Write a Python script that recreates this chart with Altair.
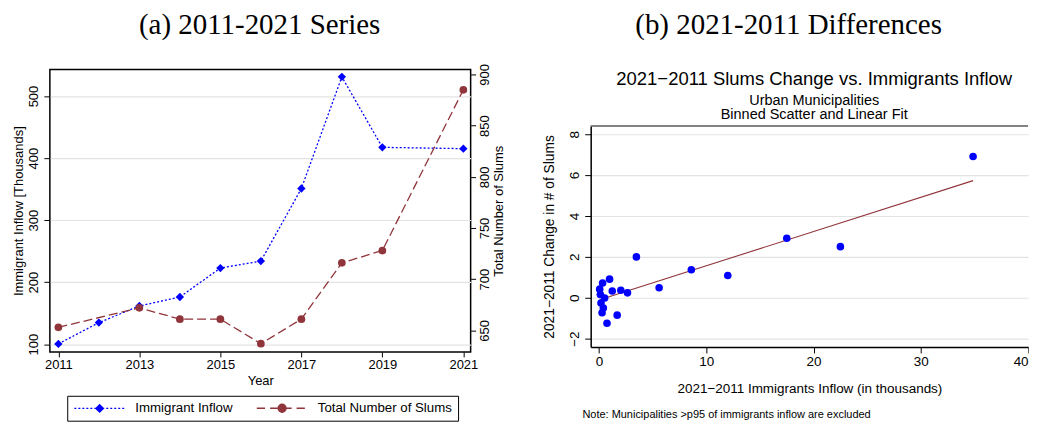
import altair as alt
import pandas as pd

# ---------------- data ----------------
years = [2011, 2012, 2013, 2014, 2015, 2016, 2017, 2018, 2019, 2020, 2021]
immigrant_inflow = [100.5, 134.8, 161.6, 176.1, 222.7, 234.0, 350.9, 531.0, 417.3, None, 415.2]
total_slums = [653, None, 672, 661, 661, 637, 661, 716, 728, None, 885]
series_names = ["Immigrant Inflow", "Total Number of Slums"]
series_colors = ["#0000ff", "#90353b"]

bin_inflow = [34.87, 17.5, 22.5, 3.48, 8.6, 12.0, 5.6, 2.03, 2.65, 1.23,
              0.98, 0.33, 0.06, 0.12, 0.52, 0.18, 0.40, 0.28, 1.69, 0.74]
bin_change = [6.91, 2.91, 2.50, 2.0, 1.37, 1.09, 0.49, 0.37, 0.24, 0.33,
              0.91, 0.72, 0.42, 0.16, -0.01, -0.26, -0.50, -0.73, -0.85, -1.25]
fit_intercept = -0.11
fit_slope = 0.1675

left_x_ticks = [2011, 2013, 2015, 2017, 2019, 2021]
left_y_ticks = [100, 200, 300, 400, 500]
right_y_ticks = [650, 700, 750, 800, 850, 900]
scat_x_ticks = [0, 10, 20, 30, 40]
scat_y_ticks = [-2, 0, 2, 4, 6, 8]

panel_titles = ["(a) 2011-2021 Series", "(b) 2021-2011 Differences"]
scat_title = "2021\u22122011 Slums Change vs. Immigrants Inflow"
scat_subtitles = ["Urban Municipalities", "Binned Scatter and Linear Fit"]
note_text = "Note: Municipalities >p95 of immigrants inflow are excluded"

FONT = "Liberation Sans"
SERIF = "Liberation Serif"


def text_layer(txt, x, y, size, font=FONT, align="center"):
    return alt.Chart(pd.DataFrame({"t": [txt]})).mark_text(
        align=align, baseline="alphabetic", fontSize=size, font=font,
        color="black").encode(x=alt.value(x), y=alt.value(y), text="t:N")


# ---------------- left panel ----------------
imm_df = pd.DataFrame({"year": years, "value": immigrant_inflow}).dropna()
slum_df = pd.DataFrame({"year": years, "value": total_slums}).dropna()
legend_df = pd.DataFrame({"series": series_names})

W1, H1 = 422, 283.3

xs = alt.Scale(domain=[2010.79, 2021.18], nice=False, zero=False)
x_axis = alt.Axis(values=left_x_ticks, format="d", title="Year", grid=False,
                  domain=False, tickSize=5, tickWidth=1, labelFontSize=13,
                  titleFontSize=13, labelPadding=2, titlePadding=2.7)

imm_y = alt.Y("value:Q",
              scale=alt.Scale(domain=[87.6, 542.9], nice=False, zero=False),
              axis=alt.Axis(values=left_y_ticks, title="Immigrant Inflow [Thousands]",
                            grid=True, gridColor="#e3e3e3", gridWidth=1.2,
                            domain=False, tickSize=6, labelAngle=270,
                            labelAlign="center", labelBaseline="bottom",
                            labelFontSize=13, titleFontSize=13, labelPadding=3.6,
                            titlePadding=2))
slum_y = alt.Y("value:Q",
               scale=alt.Scale(domain=[629.0, 904.9], nice=False, zero=False),
               axis=alt.Axis(values=right_y_ticks, title="Total Number of Slums",
                             orient="right", grid=False, domain=False, tickSize=5,
                             labelAngle=270, labelAlign="center", labelBaseline="top",
                             labelFontSize=13, titleFontSize=13, labelPadding=3,
                             titleAngle=270, titleBaseline="top", titlePadding=1))

imm_line = alt.Chart(imm_df).mark_line(color=series_colors[0], strokeDash=[2, 2],
                                       strokeWidth=1.3).encode(
    x=alt.X("year:Q", scale=xs, axis=x_axis), y=imm_y)
imm_pts = alt.Chart(imm_df).mark_point(shape="diamond", filled=True, opacity=1,
                                       color=series_colors[0], size=70).encode(
    x=alt.X("year:Q", scale=xs), y=alt.Y("value:Q"))
slum_line = alt.Chart(slum_df).mark_line(color=series_colors[1], strokeDash=[9, 4],
                                         strokeWidth=1.3).encode(
    x=alt.X("year:Q", scale=xs), y=slum_y)
slum_pts = alt.Chart(slum_df).mark_point(shape="circle", filled=True, opacity=1,
                                         color=series_colors[1], size=60).encode(
    x=alt.X("year:Q", scale=xs), y=alt.Y("value:Q"))


# legend symbols: a line with a marker, in symbol units (1 unit = 5 px)
def dashes(x0, x1, on, off):
    out, x = [], x0
    while x < x1:
        out.append(f"M{x:.2f},0H{min(x + on, x1):.2f}")
        x += on + off
    return "".join(out)


mid = 4.07
imm_sym = dashes(-1, 9.14, 0.4, 0.4) + \
    f"M{mid-0.75:.2f},0L{mid:.2f},-0.75L{mid+0.75:.2f},0L{mid:.2f},0.75Z"
slum_sym = dashes(-1, 9.14, 1.66, 1.0) + \
    f"M{mid-0.8:.2f},0A0.8,0.8,0,1,0,{mid+0.8:.2f},0A0.8,0.8,0,1,0,{mid-0.8:.2f},0Z"

leg = alt.Legend(orient="none", legendX=17.4, legendY=327.3, direction="horizontal",
                 title=None, strokeColor="black", fillColor="white", padding=5.5,
                 symbolSize=100, symbolStrokeWidth=1.3, labelOffset=49.5,
                 columnPadding=21, labelFontSize=13.3, labelFont=FONT,
                 labelColor="black", symbolOpacity=1)
legend_layer = alt.Chart(legend_df).mark_point(opacity=1, size=100, clip=True,
                                               strokeWidth=1.3).encode(
    x=alt.value(-60), y=alt.value(-60),
    fill=alt.Fill("series:N", scale=alt.Scale(domain=series_names, range=series_colors),
                  legend=leg),
    stroke=alt.Stroke("series:N", scale=alt.Scale(domain=series_names, range=series_colors),
                      legend=leg),
    shape=alt.Shape("series:N", scale=alt.Scale(domain=series_names,
                                                range=[imm_sym, slum_sym]),
                    legend=leg),
)

left = alt.layer(
    alt.layer(imm_line, imm_pts),
    alt.layer(slum_line, slum_pts),
    legend_layer,
    text_layer(panel_titles[0], 210.4, -35.7, 29, font=SERIF),
).resolve_scale(y="independent").properties(
    width=W1, height=H1,
    view=alt.ViewBackground(stroke="black", strokeWidth=1.5),
)

# ---------------- right panel ----------------
scat_df = pd.DataFrame({"inflow": bin_inflow, "change": bin_change})
fit_x = [min(bin_inflow), max(bin_inflow)]
fit_df = pd.DataFrame({"inflow": fit_x,
                       "change": [fit_intercept + fit_slope * v for v in fit_x]})

# the reference crops the panel at the 40 tick; the plot ends there
W2, H2 = 438.7, 278.3
TOP2 = 56.7  # plot region starts below the inner titles
sxs = alt.Scale(domain=[-0.781, 40], nice=False, zero=False)
sys_ = alt.Scale(domain=[-2.405, 8.405], range=[H2, TOP2], nice=False, zero=False)

sx_axis = alt.Axis(values=scat_x_ticks, title="2021\u22122011 Immigrants Inflow (in thousands)",
                   grid=False, domainColor="black", domainWidth=1.5, tickSize=6,
                   labelFontSize=13.5, titleFontSize=13.5, labelPadding=1.6,
                   titlePadding=14, labelFlush=1)
sy_axis = alt.Axis(values=scat_y_ticks, title="2021\u22122011 Change in # of Slums",
                   grid=True, gridColor="#e3e3e3", gridWidth=1.2, domainColor="black",
                   domainWidth=1.5, tickSize=6, labelAngle=270, labelAlign="center",
                   labelBaseline="bottom", labelFontSize=13.5, titleFontSize=13.8,
                   labelPadding=3, titlePadding=11)

fit_line = alt.Chart(fit_df).mark_line(color=series_colors[1], strokeWidth=1.1).encode(
    x=alt.X("inflow:Q", scale=sxs, axis=sx_axis),
    y=alt.Y("change:Q", scale=sys_, axis=sy_axis))
scat = alt.Chart(scat_df).mark_circle(color="#0000ff", opacity=1, size=58).encode(
    x=alt.X("inflow:Q", scale=sxs), y=alt.Y("change:Q", scale=sys_))
top_border = alt.Chart(pd.DataFrame({"t": [0]})).mark_rule(
    color="#5a5a5a", strokeWidth=1.5).encode(
    x=alt.value(0), x2=alt.value(W2), y=alt.value(TOP2))

right = alt.layer(
    fit_line, scat, top_border,
    text_layer(panel_titles[1], 198.5, -35.7, 29, font=SERIF),
    text_layer(scat_title, 224.2, 15.3, 18.5),
    text_layer(scat_subtitles[0], 224.2, 35.7, 14.5),
    text_layer(scat_subtitles[1], 224.2, 50.0, 14.5),
    text_layer(note_text, -8.3, 349.5, 11, align="left"),
).properties(
    width=W2, height=H2,
    view=alt.ViewBackground(stroke=None),
)

chart = alt.hconcat(left, right, spacing=36.4).properties(
    padding={"left": 3, "top": 1, "right": 0, "bottom": 0},
    background="white",
).configure_axis(
    labelFont=FONT, titleFont=FONT, labelColor="black", titleColor="black",
    titleFontWeight="normal", tickColor="black",
).configure_view(stroke=None)

chart.save("out.html", embed_options={"renderer": "svg", "actions": False})
